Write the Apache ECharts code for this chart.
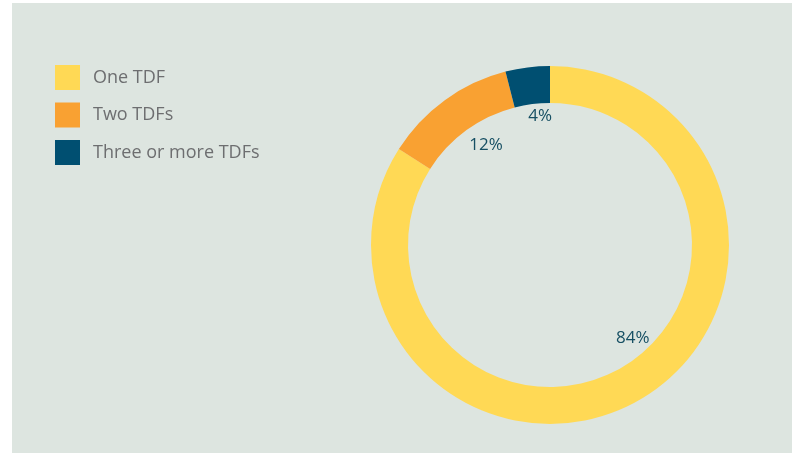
<!DOCTYPE html>
<html>
<head>
<meta charset="utf-8">
<script src="https://cdn.jsdelivr.net/npm/echarts@6/dist/echarts.min.js"></script>
<style>
  html, body { margin: 0; padding: 0; background: #ffffff; }
  #chart {
    position: absolute;
    left: 12px;
    top: 3px;
    width: 780px;
    height: 450px;
    background: #dde5e0;
  }
</style>
</head>
<body>
<div id="chart"></div>
<script>
// 数据
const categories = ['One TDF', 'Two TDFs', 'Three or more TDFs']
const shares = [84, 12, 4]
const colors = ['#ffd955', '#f9a132', '#004f71']
// 标签微调（原图标签是手动摆放的）
const labelNudge = [[22, -17], [10, 2], [6, -4]]

const chart = echarts.init(document.getElementById('chart'), null, { renderer: 'canvas' })

const ringData = categories.map((name, i) => ({
  name,
  value: shares[i],
  itemStyle: { color: colors[i] }
}))

// 标签用透明的内圈，放在圆环内侧
const labelData = categories.map((name, i) => ({
  name,
  value: shares[i],
  itemStyle: { color: 'rgba(0,0,0,0)' },
  label: { offset: labelNudge[i] }
}))

chart.setOption({
  backgroundColor: '#dde5e0',
  animation: false,
  legend: {
    data: categories,
    orient: 'vertical',
    left: 38,
    top: 57,
    itemWidth: 25,
    itemHeight: 25,
    itemGap: 12.5,
    icon: 'rect',
    textStyle: {
      color: '#6d6e70',
      fontSize: 18,
      fontFamily: 'Open Sans',
      padding: [0, 0, 0, 8]
    }
  },
  series: [
    {
      name: 'ring',
      type: 'pie',
      center: [538, 242],
      radius: [142, 179],
      startAngle: 90,
      clockwise: true,
      label: { show: false },
      labelLine: { show: false },
      emphasis: { disabled: true },
      data: ringData
    },
    {
      name: 'labels',
      type: 'pie',
      center: [538, 242],
      radius: [110, 136],
      startAngle: 90,
      clockwise: true,
      silent: true,
      legendHoverLink: false,
      label: {
        show: true,
        position: 'inside',
        formatter: '{c}%',
        color: '#164f63',
        fontSize: 17,
        fontFamily: 'Open Sans'
      },
      labelLine: { show: false },
      data: labelData
    }
  ]
})
</script>
</body>
</html>
